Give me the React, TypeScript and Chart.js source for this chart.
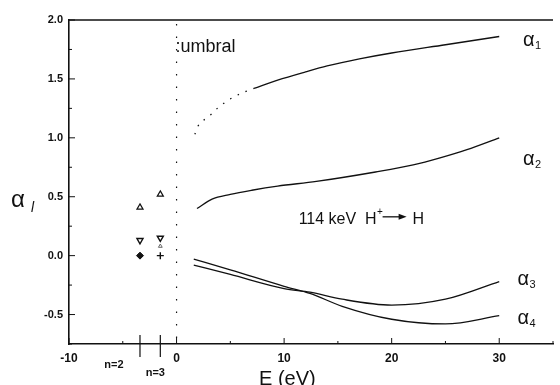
import React, { useEffect, useRef } from 'react';
import { Chart, registerables } from 'chart.js';
Chart.register(...registerables);

// ---- data ----
const a1DotE = [1.7, 2.0, 3.0, 3.8, 5.0, 6.6, 7.2];
const a1DotV = [1.03, 1.1, 1.18, 1.25, 1.33, 1.4, 1.42];
const a1E = [7.2, 9.4, 12, 14, 17, 20, 25, 30];
const a1V = [1.42, 1.49, 1.56, 1.61, 1.67, 1.72, 1.79, 1.86];
const a2E = [1.9, 3.3, 5, 7, 9.4, 13, 18.5, 22, 24.5, 27, 30];
const a2V = [0.4, 0.48, 0.52, 0.555, 0.59, 0.63, 0.71, 0.77, 0.83, 0.9, 1.0];
const a3E = [1.6, 5, 10, 12.4, 15.4, 20, 25, 30];
const a3V = [-0.08, -0.16, -0.28, -0.31, -0.37, -0.42, -0.37, -0.22];
const a4E = [1.6, 5, 10, 12.4, 15.4, 20, 25, 30];
const a4V = [-0.03, -0.12, -0.26, -0.32, -0.43, -0.54, -0.58, -0.51];
// bound-state points (n=2 at -3.4 eV, n=3 at -1.51 eV)
const boundE = [-3.4, -1.51];
const upTriV = [0.41, 0.52];
const downTriV = [0.13, 0.15];
const crossV = [0.0, 0.0];
const smallTriE = [-1.51];
const smallTriV = [0.08];
const nLevels = ['n=2', 'n=3'];
const xMin = -10, xMax = 35, yMin = -0.75, yMax = 2.0;

const pts = (xs: number[], ys: number[]) => xs.map((x, i) => ({ x, y: ys[i] }));
const FONT = 'Liberation Sans, Arial, sans-serif';

const deco = {
  id: 'deco',
  afterDraw(chart: any) {
    const { ctx, chartArea: ca, scales } = chart;
    const xs = scales.x, ys = scales.y;
    ctx.save();
    ctx.strokeStyle = '#111';
    ctx.fillStyle = '#111';
    // top border
    ctx.lineWidth = 1.6;
    ctx.beginPath();
    ctx.moveTo(ca.left, ca.top);
    ctx.lineTo(ca.right, ca.top);
    ctx.stroke();
    // x ticks (inward)
    ctx.lineWidth = 1;
    for (let v = xMin; v <= xMax; v += 5) {
      const px = xs.getPixelForValue(v);
      const len = v % 10 === 0 ? 6 : 3;
      ctx.beginPath();
      ctx.moveTo(px, ca.bottom);
      ctx.lineTo(px, ca.bottom - len);
      ctx.stroke();
    }
    for (let v = yMin; v <= yMax + 1e-9; v += 0.25) {
      const py = ys.getPixelForValue(v);
      const len = Math.abs((v * 2) % 1) < 1e-9 ? 6 : 3;
      ctx.beginPath();
      ctx.moveTo(ca.left - 1, py);
      ctx.lineTo(ca.left + len, py);
      ctx.stroke();
    }
    // n-level markers
    ctx.lineWidth = 1.2;
    ctx.font = `bold 11px ${FONT}`;
    ctx.textAlign = 'center';
    ctx.textBaseline = 'alphabetic';
    boundE.forEach((e, i) => {
      const px = xs.getPixelForValue(e);
      ctx.beginPath();
      ctx.moveTo(px, ca.bottom - 9);
      ctx.lineTo(px, ca.bottom + 13);
      ctx.stroke();
      const lx = i === 0 ? px - 26 : px - 5;
      const ly = i === 0 ? ca.bottom + 24 : ca.bottom + 32;
      ctx.fillText(nLevels[i], lx, ly);
    });
    // dotted threshold line at E=0
    ctx.setLineDash([1.5, 11]);
    ctx.lineWidth = 1.2;
    const x0 = xs.getPixelForValue(0);
    ctx.beginPath();
    ctx.moveTo(x0, ca.top + 4);
    ctx.lineTo(x0, ca.bottom);
    ctx.stroke();
    ctx.setLineDash([]);
    // texts
    ctx.textAlign = 'left';
    ctx.font = `18px ${FONT}`;
    ctx.fillText(':umbral', x0 - 1, ys.getPixelForValue(1.75) + 3);
    // 114 keV H+ -> H
    const tb = ys.getPixelForValue(0.27);
    ctx.font = `16px ${FONT}`;
    let tx = xs.getPixelForValue(11.35);
    ctx.fillText('114 keV  H', tx, tb);
    tx += ctx.measureText('114 keV  H').width;
    ctx.font = `10px ${FONT}`;
    ctx.fillText('+', tx + 0.5, tb - 9);
    tx += 6;
    ctx.lineWidth = 1.3;
    ctx.beginPath();
    ctx.moveTo(tx, tb - 7);
    ctx.lineTo(tx + 18, tb - 7);
    ctx.stroke();
    ctx.beginPath();
    ctx.moveTo(tx + 24, tb - 7);
    ctx.lineTo(tx + 16, tb - 10);
    ctx.lineTo(tx + 16, tb - 4);
    ctx.closePath();
    ctx.fill();
    ctx.font = `16px ${FONT}`;
    ctx.fillText('H', tx + 30, tb);
    // alpha labels
    const alpha = (x: number, y: number, sub: string, size: number, subSize: number) => {
      ctx.font = `${size}px ${FONT}`;
      ctx.fillText('α', x, y);
      const w = ctx.measureText('α').width;
      ctx.font = `${subSize}px ${FONT}`;
      ctx.fillText(sub, x + w + 0.5, y + 3);
    };
    const rx = xs.getPixelForValue(32.2);
    alpha(rx, ys.getPixelForValue(1.78), '1', 20, 11);
    alpha(rx, ys.getPixelForValue(0.77), '2', 20, 11);
    alpha(xs.getPixelForValue(31.7), ys.getPixelForValue(-0.25), '3', 20, 11);
    alpha(xs.getPixelForValue(31.7), ys.getPixelForValue(-0.58), '4', 20, 11);
    // y title
    ctx.font = `24px ${FONT}`;
    ctx.fillText('α', 11, 207);
    ctx.font = `italic 14px ${FONT}`;
    ctx.fillText('l', 31, 212);
    // x title
    ctx.font = `20px ${FONT}`;
    ctx.textAlign = 'left';
    ctx.fillText('E (eV)', 259, 385);
    ctx.restore();
  },
};

export default function App() {
  const ref = useRef<HTMLCanvasElement>(null);
  useEffect(() => {
    if (!ref.current) return;
    const line = (data: any, dash: number[] = []) => ({
      type: 'line' as const,
      data,
      borderColor: '#111',
      borderWidth: 1.3,
      borderDash: dash,
      pointRadius: 0,
      cubicInterpolationMode: 'monotone' as const,
      fill: false,
    });
    const chart = new Chart(ref.current, {
      type: 'scatter',
      data: {
        datasets: [
          line(pts(a1DotE, a1DotV), [1.5, 7]),
          line(pts(a1E, a1V)),
          line(pts(a2E, a2V)),
          line(pts(a3E, a3V)),
          line(pts(a4E, a4V)),
          {
            data: pts(boundE, upTriV),
            pointStyle: 'triangle',
            pointRadius: 3.5,
            borderColor: '#111',
            backgroundColor: '#fff',
            borderWidth: 1.2,
          },
          {
            data: pts(boundE, downTriV),
            pointStyle: 'triangle',
            rotation: 180,
            pointRadius: 3.5,
            borderColor: '#111',
            backgroundColor: '#fff',
            borderWidth: 1.4,
          },
          {
            data: pts(smallTriE, smallTriV),
            pointStyle: 'triangle',
            pointRadius: 2.2,
            borderColor: '#666',
            backgroundColor: '#fff',
            borderWidth: 1,
          },
          {
            data: [{ x: boundE[0], y: crossV[0] }],
            pointStyle: 'rectRot',
            pointRadius: 3.5,
            borderColor: '#111',
            backgroundColor: '#111',
            borderWidth: 1,
          },
          {
            data: [{ x: boundE[1], y: crossV[1] }],
            pointStyle: 'cross',
            pointRadius: 3.5,
            borderColor: '#111',
            borderWidth: 1.4,
          },
        ],
      },
      options: {
        animation: false,
        responsive: false,
        maintainAspectRatio: false,
        layout: { padding: { top: 20, left: 0, right: 0, bottom: 0 } },
        plugins: { legend: { display: false }, tooltip: { enabled: false } },
        scales: {
          x: {
            type: 'linear',
            min: xMin,
            max: xMax,
            afterFit: (s: any) => { s.height = 41; },
            grid: { display: false, drawTicks: false, tickLength: 0 },
            border: { display: true, color: '#111', width: 1.6 },
            ticks: {
              stepSize: 5,
              padding: 7,
              color: '#111',
              font: { family: FONT, size: 12, weight: 'bold' },
              callback: (v: any) => (Number(v) % 10 === 0 && Number(v) < 35 ? String(v) : ''),
            },
          },
          y: {
            type: 'linear',
            min: yMin,
            max: yMax,
            afterFit: (s: any) => { s.width = 69; },
            grid: { display: false, drawTicks: false, tickLength: 0 },
            border: { display: true, color: '#111', width: 1.6 },
            ticks: {
              stepSize: 0.25,
              padding: 6,
              color: '#111',
              font: { family: FONT, size: 11, weight: 'bold' },
              callback: (v: any) => {
                const n = Number(v);
                return Math.abs((n * 2) % 1) < 1e-9 ? n.toFixed(1) : '';
              },
            },
          },
        },
      },
      plugins: [deco],
    });
    return () => chart.destroy();
  }, []);
  return (
    <div style={{ position: 'absolute', left: 0, top: 0, width: 560, height: 385, background: '#fff' }}>
      <canvas ref={ref} width={560} height={385} style={{ width: 560, height: 385, display: 'block' }} />
    </div>
  );
}
